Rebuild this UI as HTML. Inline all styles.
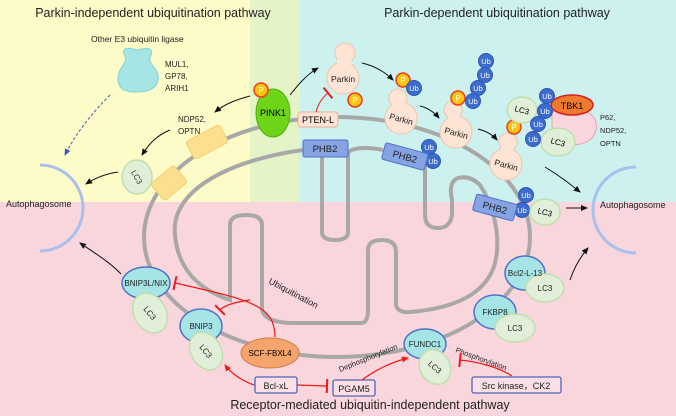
<!DOCTYPE html>
<html><head><meta charset="utf-8"><style>
html,body{margin:0;padding:0;width:676px;height:416px;overflow:hidden;background:#f9d5dc}
svg{display:block;font-family:"Liberation Sans",sans-serif}
</style></head><body>
<svg width="676" height="416" viewBox="0 0 676 416" xmlns="http://www.w3.org/2000/svg">
<defs>
<marker id="a" markerWidth="8" markerHeight="8" refX="6" refY="3" orient="auto" markerUnits="userSpaceOnUse"><path d="M0,0 L7,3 L0,6 Z" fill="#111"/></marker>
<marker id="r" markerWidth="8" markerHeight="8" refX="6" refY="3" orient="auto" markerUnits="userSpaceOnUse"><path d="M0,0 L7,3 L0,6 Z" fill="#f01818"/></marker>
<marker id="b" markerWidth="8" markerHeight="8" refX="6" refY="3" orient="auto" markerUnits="userSpaceOnUse"><path d="M0,0 L7,3 L0,6 Z" fill="#3a5bc4"/></marker>
<marker id="t" markerWidth="4" markerHeight="14" refX="2" refY="7" orient="auto" markerUnits="userSpaceOnUse"><path d="M2,0 L2,14" stroke="#f01818" stroke-width="2"/></marker>
</defs>
<rect x="0" y="0" width="250" height="202" fill="#fdfbc8"/>
<rect x="250" y="0" width="50" height="202" fill="#e4f4c6"/>
<rect x="300" y="0" width="376" height="202" fill="#cdf1ef"/>
<rect x="0" y="202" width="676" height="214" fill="#f9d5dc"/>

<text x="153" y="17" font-size="12.5" text-anchor="middle" fill="#222">Parkin-independent ubiquitination pathway</text>
<text x="497" y="17" font-size="12.5" text-anchor="middle" fill="#222">Parkin-dependent ubiquitination pathway</text>
<text x="370" y="409" font-size="12.5" text-anchor="middle" fill="#222">Receptor-mediated ubiquitin-independent  pathway</text>

<!-- autophagosomes -->
<path d="M40,165 A43,43 0 0 1 40,251" fill="none" stroke="#a9bfee" stroke-width="3"/>
<path d="M636,167 A43,43 0 0 0 636,253" fill="none" stroke="#a9bfee" stroke-width="3"/>
<text x="6" y="207" font-size="9" fill="#222">Autophagosome</text>
<text x="600" y="208" font-size="9" fill="#222">Autophagosome</text>

<!-- mitochondrion -->
<ellipse cx="337" cy="237" rx="193" ry="120" fill="none" stroke="#a8a8a8" stroke-width="4"/>
<path d="M303,150 C230,160 170,190 175,235 C178,270 200,290 230,300 L230,225 Q230,215 246,215 Q262,215 262,225 L262,310 Q265,322 290,323 L362,323 Q368,322 368,310 L368,250 Q368,240 382,240 Q396,240 396,252 L396,305 Q398,313 410,312 C460,308 495,290 497,250 C499,225 490,200 480,185 Q470,175 458,178 Q448,182 452,200 L452,215 Q450,228 438,228 Q425,228 425,215 L425,160" fill="none" stroke="#a8a8a8" stroke-width="4"/>
<path d="M383,150 C370,147 355,147 348,152 L348,232 Q348,240 335,240 Q322,240 322,232 L322,157" fill="none" stroke="#a8a8a8" stroke-width="4"/>

<!-- left side -->
<g>
<path d="M125,56 C120,46 130,48 137,50 C146,48 155,46 150,58 C147,64 160,68 158,80 C156,92 140,92 137,92 C125,92 118,90 118,78 C118,68 128,63 125,56 Z" fill="#a5e5e6" stroke="#7fd3d6"/>
</g>
<text x="165" y="67" font-size="8" fill="#222">MUL1,</text>
<text x="165" y="79" font-size="8" fill="#222">GP78,</text>
<text x="165" y="91" font-size="8" fill="#222">ARIH1</text>
<text x="91" y="42" font-size="8.5" fill="#222">Other E3 ubiquitin ligase</text>
<path d="M110,95 C90,115 75,135 65,155" fill="none" stroke="#3a5bc4" stroke-dasharray="3,2" marker-end="url(#b)"/>
<rect x="188" y="132" width="38" height="20" rx="3" fill="#fde08f" stroke="#f3cd70" transform="rotate(-28 207 142)"/>
<rect x="154" y="172" width="30" height="22" rx="3" fill="#fde08f" stroke="#f3cd70" transform="rotate(-40 169 183)"/>
<ellipse cx="137" cy="177" rx="15" ry="17" fill="#e1efd9" stroke="#bfe0ad" stroke-width="1.5"/>
<text x="137" y="180" font-size="8" text-anchor="middle" transform="rotate(60 137 177)" fill="#333">LC3</text>
<text x="178" y="122" font-size="8" fill="#222">NDP52,</text>
<text x="178" y="134" font-size="8" fill="#222">OPTN</text>
<path d="M250,96 C235,100 225,104 215,112" fill="none" stroke="#111" marker-end="url(#a)"/>
<path d="M170,130 C158,135 150,142 142,155" fill="none" stroke="#111" marker-end="url(#a)"/>
<path d="M118,172 C105,174 95,178 86,184" fill="none" stroke="#111" marker-end="url(#a)"/>

<!-- PINK1 -->
<ellipse cx="273" cy="113" rx="17" ry="24" fill="#6ed418" stroke="#4fb00c"/>
<text x="273" y="116" font-size="9" text-anchor="middle">PINK1</text>
<circle cx="261" cy="90" r="7" fill="#fcc512" stroke="#ef3b1c" stroke-width="1.5"/>
<text x="261" y="93" font-size="8" text-anchor="middle" fill="#fff">P</text>
<rect x="298" y="112" width="40" height="15" rx="3" fill="#fde4d4" stroke="#e8b090"/>
<text x="318" y="123" font-size="9" text-anchor="middle">PTEN-L</text>
<path d="M290,95 C298,85 306,75 318,68" fill="none" stroke="#111" marker-end="url(#a)"/>
<path d="M316,112 C318,104 322,98 328,93" fill="none" stroke="#f01818" marker-end="url(#t)"/>

<!-- Parkins -->
<g fill="#fde4d4" stroke="#efc2a8">
<circle cx="345" cy="53" r="10"/><circle cx="343" cy="78" r="16"/>
<circle cx="398" cy="98" r="9"/><circle cx="401" cy="118" r="16"/>
<circle cx="453" cy="110" r="9"/><circle cx="456" cy="132" r="16"/>
<circle cx="508" cy="142" r="9"/><circle cx="506" cy="164" r="16"/>
</g>
<g fill="#fde4d4">
<circle cx="345" cy="53" r="9.5"/><circle cx="343" cy="78" r="15.5"/><rect x="337" y="55" width="14" height="12"/>
<circle cx="398" cy="98" r="8.5"/><circle cx="401" cy="118" r="15.5"/><rect x="393" y="100" width="12" height="8"/>
<circle cx="453" cy="110" r="8.5"/><circle cx="456" cy="132" r="15.5"/><rect x="448" y="112" width="12" height="10"/>
<circle cx="508" cy="142" r="8.5"/><circle cx="506" cy="164" r="15.5"/><rect x="501" y="144" width="12" height="10"/>
</g>
<g font-size="8.5" text-anchor="middle" fill="#222">
<text x="343" y="82">Parkin</text>
<text x="401" y="122" transform="rotate(15 401 120)">Parkin</text>
<text x="456" y="136" transform="rotate(15 456 134)">Parkin</text>
<text x="506" y="168" transform="rotate(15 506 166)">Parkin</text>
</g>
<g fill="#fcc512" stroke="#ef3b1c" stroke-width="1.5">
<circle cx="355" cy="100" r="7"/><circle cx="403" cy="80" r="7"/><circle cx="458" cy="98" r="7"/><circle cx="514" cy="127" r="7"/>
</g>
<g font-size="8" text-anchor="middle" fill="#fff">
<text x="355" y="103">P</text><text x="403" y="83">P</text><text x="458" y="101">P</text><text x="514" y="130">P</text>
</g>
<path d="M362,63 C375,66 385,72 393,80" fill="none" stroke="#111" marker-end="url(#a)"/>
<path d="M420,106 C428,108 434,112 439,118" fill="none" stroke="#111" marker-end="url(#a)"/>
<path d="M478,129 C486,131 492,134 497,140" fill="none" stroke="#111" marker-end="url(#a)"/>

<!-- LC3 / TBK1 group -->
<path d="M552,112 C575,105 600,110 596,130 C592,148 565,148 552,138 Z" fill="#fbd6de" stroke="#eaa2b0"/>
<ellipse cx="522" cy="110" rx="15" ry="13" fill="#e1efd9" stroke="#bfe0ad" stroke-width="1.5"/>
<text x="522" y="113" font-size="8" text-anchor="middle" transform="rotate(15 522 110)">LC3</text>
<ellipse cx="558" cy="142" rx="17" ry="14" fill="#e1efd9" stroke="#bfe0ad" stroke-width="1.5"/>
<text x="558" y="145" font-size="8" text-anchor="middle" transform="rotate(15 558 142)">LC3</text>
<ellipse cx="572" cy="105" rx="21" ry="10" fill="#ee7a30" stroke="#d01f1f" stroke-width="1.5"/>
<text x="572" y="109" font-size="9" text-anchor="middle">TBK1</text>
<text x="600" y="120" font-size="7.5" fill="#222">P62,</text>
<text x="600" y="133" font-size="7.5" fill="#222">NDP52,</text>
<text x="600" y="146" font-size="7.5" fill="#222">OPTN</text>

<!-- Ubs -->
<g fill="#3c6cd0" stroke="#2f56b0">
<circle cx="414" cy="88" r="7.5"/>
<circle cx="486" cy="61" r="7.5"/><circle cx="485" cy="75" r="7.5"/><circle cx="478" cy="88" r="7.5"/><circle cx="473" cy="101" r="7.5"/>
<circle cx="547" cy="96" r="7.5"/><circle cx="545" cy="111" r="7.5"/><circle cx="538" cy="124" r="7.5"/><circle cx="533" cy="139" r="7.5"/>
<circle cx="429" cy="147" r="7.5"/><circle cx="433" cy="161" r="7.5"/>
<circle cx="526" cy="195" r="7.5"/><circle cx="522" cy="210" r="7.5"/>
</g>
<g font-size="7.5" text-anchor="middle" fill="#fff">
<text x="414" y="91">Ub</text>
<text x="486" y="64">Ub</text><text x="485" y="78">Ub</text><text x="478" y="91">Ub</text><text x="473" y="104">Ub</text>
<text x="547" y="99">Ub</text><text x="545" y="114">Ub</text><text x="538" y="127">Ub</text><text x="533" y="142">Ub</text>
<text x="429" y="150">Ub</text><text x="433" y="164">Ub</text>
<text x="526" y="198">Ub</text><text x="522" y="213">Ub</text>
</g>

<!-- PHB2 -->
<g fill="#86a3e4" stroke="#4f72c8">
<rect x="303" y="140" width="45" height="17" rx="2"/>
<rect x="383" y="148" width="44" height="17" rx="2" transform="rotate(15 405 156)"/>
<rect x="474" y="199" width="42" height="17" rx="2" transform="rotate(15 495 207)"/>
</g>
<g font-size="9.5" text-anchor="middle" fill="#222">
<text x="325" y="152">PHB2</text>
<text x="405" y="160" transform="rotate(15 405 156)">PHB2</text>
<text x="495" y="211" transform="rotate(15 495 207)">PHB2</text>
</g>
<ellipse cx="545" cy="212" rx="15" ry="13" fill="#e1efd9" stroke="#bfe0ad" stroke-width="1.5"/>
<text x="545" y="215" font-size="8" text-anchor="middle" transform="rotate(15 545 212)">LC3</text>
<path d="M545,167 C560,176 570,184 580,192" fill="none" stroke="#111" marker-end="url(#a)"/>
<path d="M566,208 L587,208" fill="none" stroke="#111" marker-end="url(#a)"/>

<!-- receptors bottom -->
<g fill="#a5e5e6" stroke="#4f72c8" stroke-width="1.5">
<ellipse cx="146" cy="283" rx="24" ry="16"/>
<ellipse cx="201" cy="326" rx="21" ry="17"/>
<ellipse cx="425" cy="344" rx="21" ry="15"/>
<ellipse cx="495" cy="312" rx="21" ry="17"/>
<ellipse cx="525" cy="273" rx="20" ry="17"/>
</g>
<g fill="#e1efd9" stroke="#bfe0ad" stroke-width="1.5">
<ellipse cx="150" cy="313" rx="16" ry="21" transform="rotate(-30 150 313)"/>
<ellipse cx="206" cy="351" rx="15" ry="20" transform="rotate(-30 206 351)"/>
<ellipse cx="435" cy="367" rx="15" ry="18" transform="rotate(-30 435 367)"/>
<ellipse cx="515" cy="328" rx="20" ry="14"/>
<ellipse cx="545" cy="288" rx="19" ry="14"/>
</g>
<g font-size="8" text-anchor="middle" fill="#222">
<text x="146" y="286">BNIP3L/NIX</text>
<text x="201" y="329">BNIP3</text>
<text x="425" y="347">FUNDC1</text>
<text x="495" y="315">FKBP8</text>
<text x="525" y="276">Bcl2-L-13</text>
<text x="150" y="316" transform="rotate(50 150 313)">LC3</text>
<text x="206" y="354" transform="rotate(50 206 351)">LC3</text>
<text x="435" y="370" transform="rotate(40 435 367)">LC3</text>
<text x="515" y="331">LC3</text>
<text x="545" y="291">LC3</text>
</g>
<ellipse cx="270" cy="353" rx="29" ry="15" fill="#f4a46c" stroke="#d07d45"/>
<text x="270" y="356" font-size="8" text-anchor="middle">SCF-FBXL4</text>
<g fill="#fff0f3" stroke="#4f63b8" stroke-width="1.3">
<rect x="255" y="377" width="42" height="16" rx="2" fill="#fbdfe5"/>
<rect x="333" y="380" width="42" height="16" rx="2" fill="#fbdfe5"/>
<rect x="472" y="377" width="89" height="16" rx="2" fill="#fbdfe5"/>
</g>
<g font-size="9" text-anchor="middle" fill="#222">
<text x="276" y="389">Bcl-xL</text>
<text x="354" y="392">PGAM5</text>
<text x="516" y="389">Src kinase，CK2</text>
</g>
<text x="268" y="283" font-size="9" transform="rotate(28 268 283)" fill="#222">Ubiquitination</text>
<text x="340" y="372" font-size="7.5" transform="rotate(-22 340 372)" fill="#222">Dephosphorylation</text>
<text x="455" y="352" font-size="7.5" transform="rotate(20 455 352)" fill="#222">Phosphorylation</text>

<!-- red inhibition / activation -->
<path d="M275,337 C275,305 250,300 175,283" fill="none" stroke="#f01818" stroke-width="1.2" marker-end="url(#t)"/>
<path d="M250,300 C235,302 225,305 220,310" fill="none" stroke="#f01818" stroke-width="1.2" marker-end="url(#t)"/>
<path d="M254,385 C240,380 230,372 225,365" fill="none" stroke="#f01818" stroke-width="1.2" marker-end="url(#r)"/>
<path d="M297,385 L327,386" fill="none" stroke="#f01818" stroke-width="1.2" marker-end="url(#t)"/>
<path d="M362,380 C375,370 392,362 408,358" fill="none" stroke="#f01818" stroke-width="1.2" marker-end="url(#r)"/>
<path d="M512,376 C500,368 480,362 460,360" fill="none" stroke="#f01818" stroke-width="1.2" marker-end="url(#t)"/>
<!-- black arrows bottom -->
<path d="M121,274 C110,262 90,250 80,243" fill="none" stroke="#111" marker-end="url(#a)"/>
<path d="M570,280 C575,265 582,255 588,248" fill="none" stroke="#111" marker-end="url(#a)"/>
</svg>
</body></html>
